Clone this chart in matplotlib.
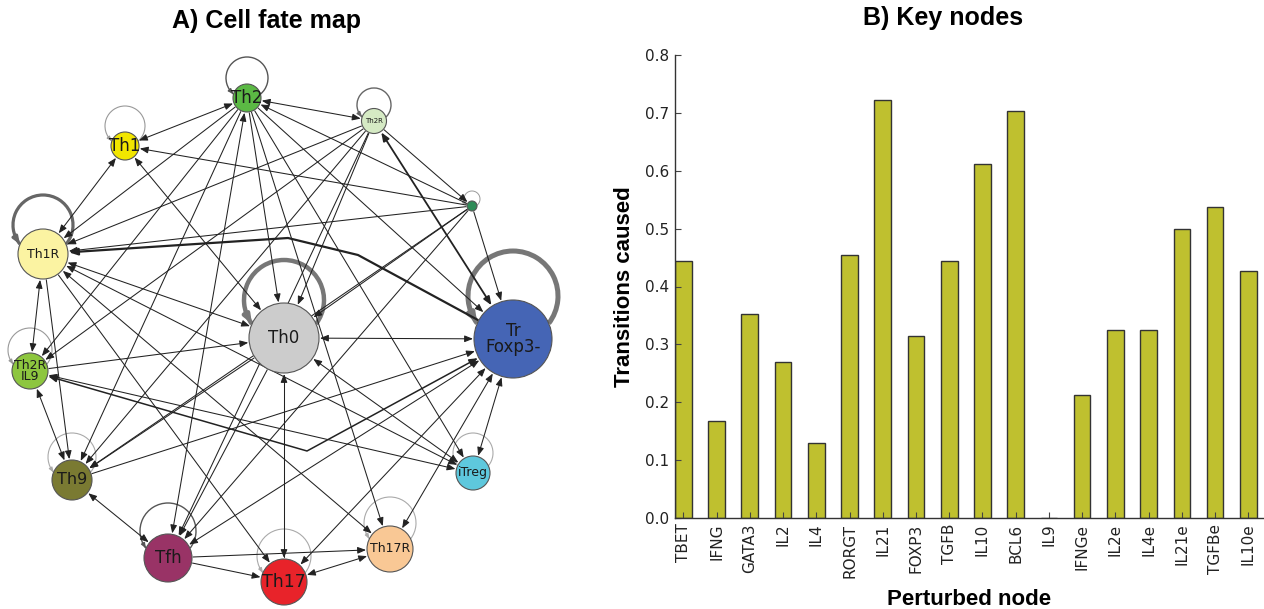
import numpy as np
import matplotlib
matplotlib.use('Agg')
import matplotlib.pyplot as plt
from matplotlib.patches import Circle, Arc, FancyArrowPatch
from matplotlib.path import Path

# fraction of transitions caused by perturbing each node
perturbed = ['TBET', 'IFNG', 'GATA3', 'IL2', 'IL4', 'RORGT', 'IL21', 'FOXP3', 'TGFB',
             'IL10', 'BCL6', 'IL9', 'IFNGe', 'IL2e', 'IL4e', 'IL21e', 'TGFBe', 'IL10e']
transitions = [0.444, 0.167, 0.352, 0.269, 0.130, 0.454, 0.722, 0.315, 0.444,
               0.611, 0.704, 0.0, 0.213, 0.324, 0.324, 0.500, 0.537, 0.426]

# cell fate map: states and observed transitions ('<->' = both directions)
states = ['Th2', 'Th2R', 'Th1', 'X', 'Th1R', 'Th0', 'Tr', 'Th2RIL9',
          'Th9', 'iTreg', 'Tfh', 'Th17', 'Th17R']
state_labels = {'Th2': 'Th2', 'Th2R': 'Th2R', 'Th1': 'Th1', 'X': '', 'Th1R': 'Th1R',
                'Th0': 'Th0', 'Tr': 'Tr\nFoxp3-', 'Th2RIL9': 'Th2R\nIL9', 'Th9': 'Th9',
                'iTreg': 'iTreg', 'Tfh': 'Tfh', 'Th17': 'Th17', 'Th17R': 'Th17R'}
edges = [
    ('Th2', 'Th1', '<->'), ('Th2', 'Th2R', '<->'), ('Th2', 'Th0', '->'),
    ('Th2', 'Th1R', '->'), ('Th2', 'Th2RIL9', '->'), ('Th2', 'Th9', '->'),
    ('Th2', 'Tfh', '<->'), ('Th2', 'iTreg', '->'), ('Th2', 'Tr', '->'),
    ('Th2', 'Th17R', '->'), ('X', 'Th2', '->'),
    ('Th1', 'Th1R', '<->'), ('Th1', 'Th0', '<->'), ('X', 'Th1', '->'),
    ('Th2R', 'Th1R', '->'), ('Th2R', 'Th2RIL9', '->'), ('Th2R', 'Th0', '->'),
    ('Th2R', 'Tfh', '->'), ('Th2R', 'Th9', '->'), ('Th2R', 'Tr', '<->'),
    ('Th2R', 'X', '->'),
    ('X', 'Th1R', '->'), ('X', 'Th0', '->'), ('X', 'Tr', '->'),
    ('X', 'Tfh', '->'), ('X', 'Th9', '->'),
    ('Th1R', 'Th0', '<->'), ('Th1R', 'Th2RIL9', '<->'), ('Th1R', 'Th9', '->'),
    ('Th1R', 'Th17', '->'), ('Th1R', 'iTreg', '<->'), ('Th1R', 'Th17R', '<->'),
    ('Th0', 'Tr', '<->'), ('Th0', 'Th17', '<->'), ('Th0', 'iTreg', '<->'),
    ('Th0', 'Th9', '->'), ('Th0', 'Tfh', '->'),
    ('Th2RIL9', 'Th0', '->'), ('Th2RIL9', 'Th9', '<->'), ('Th2RIL9', 'iTreg', '<->'),
    ('Th9', 'Tfh', '<->'), ('Th9', 'Tr', '->'),
    ('Tr', 'Tfh', '<->'), ('Tr', 'iTreg', '<->'), ('Tr', 'Th17R', '<->'),
    ('Tr', 'Th17', '<->'),
    ('Tfh', 'Th17R', '->'), ('Tfh', 'Th17', '->'), ('Th17', 'Th17R', '<->'),
    ('Th2RIL9', 'Tr', '<->'), ('Tr', 'Th1R', '->'),
]

# drawing layout of the map, in pixels of the left panel
layout = {'Th2': (247, 98, 14), 'Th2R': (374, 121, 12.5), 'Th1': (125, 146, 14),
          'X': (472, 206, 5), 'Th1R': (43, 254, 25), 'Th0': (284, 338, 35),
          'Tr': (513, 339, 39), 'Th2RIL9': (30, 371, 18), 'Th9': (72, 480, 20),
          'iTreg': (473, 473, 17), 'Tfh': (168, 558, 24), 'Th17': (284, 582, 23),
          'Th17R': (390, 549, 23)}
colors = {'Th2': '#5bb944', 'Th2R': '#d5eac4', 'Th1': '#f2e600', 'X': '#2e8b57',
          'Th1R': '#fbf3a2', 'Th0': '#cccccc', 'Tr': '#4565b5', 'Th2RIL9': '#8dc63f',
          'Th9': '#7a7a32', 'iTreg': '#5ec8dd', 'Tfh': '#993366', 'Th17': '#e8232a',
          'Th17R': '#f9c895'}
label_size = {'Th2': 12, 'Th2R': 5, 'Th1': 12, 'X': 5, 'Th1R': 9, 'Th0': 12, 'Tr': 12,
              'Th2RIL9': 9, 'Th9': 11.5, 'iTreg': 9, 'Tfh': 12, 'Th17': 12.5, 'Th17R': 9}
# self loops: radius, offset above node centre, line width, colour
loops = {'Th2': (21, 20, 1.0, '#555555'), 'Th2R': (17, 16, 1.0, '#666666'),
         'Th1': (20, 20, 0.8, '#999999'), 'X': (8, 7, 0.7, '#999999'),
         'Th1R': (30, 29, 2.3, '#666666'), 'Th0': (40, 38, 3.2, '#777777'),
         'Tr': (45, 43, 3.6, '#777777'), 'Th2RIL9': (22, 21, 0.8, '#999999'),
         'Th9': (24, 23, 0.8, '#aaaaaa'), 'iTreg': (20, 20, 0.8, '#aaaaaa'),
         'Tfh': (28, 27, 1.0, '#555555'), 'Th17': (27, 26, 0.8, '#aaaaaa'),
         'Th17R': (26, 26, 0.8, '#aaaaaa')}
bends = {('Th2RIL9', 'Tr'): [(307, 451)], ('Tr', 'Th1R'): [(358, 255), (288, 238)]}
thick = {('Th2R', 'Tr'): 1.3, ('Tr', 'Th1R'): 1.6, ('Th2RIL9', 'Tr'): 1.1}

fig = plt.figure(figsize=(12.64, 6.09), dpi=100)
W, H = 1264, 609

# ---- A) cell fate map ----
ax = fig.add_axes([0, 0, 600 / W, 569 / H])
ax.set_xlim(0, 600)
ax.set_ylim(609, 40)
ax.set_aspect('equal')
ax.axis('off')


def unit(p, q):
    d = np.array(q, float) - np.array(p, float)
    return d / np.hypot(*d)


for a, b, kind in edges:
    xa, ya, ra = layout[a]
    xb, yb, rb = layout[b]
    mids = bends.get((a, b), [])
    pts = [(xa, ya)] + mids + [(xb, yb)]
    u0 = unit(pts[0], pts[1])
    u1 = unit(pts[-2], pts[-1])
    start = np.array(pts[0]) + u0 * (ra + 1)
    end = np.array(pts[-1]) - u1 * (rb + 1)
    verts = [tuple(start)] + mids + [tuple(end)]
    style = '<|-|>' if kind == '<->' else '-|>'
    ax.add_patch(FancyArrowPatch(path=Path(verts),
                                 arrowstyle=style + ',head_length=0.5,head_width=0.2',
                                 mutation_scale=10, lw=thick.get((a, b), 0.75),
                                 color='#222222', zorder=2))

for s in states:
    x, y, r = layout[s]
    R, off, lw, c = loops[s]
    # where the loop meets the node outline
    sin_t = (R ** 2 + off ** 2 - r ** 2) / (2 * R * off)
    t = np.degrees(np.arcsin(np.clip(sin_t, -1, 1)))
    ax.add_patch(Arc((x, y - off), 2 * R, 2 * R, theta1=180 - t, theta2=360 + t,
                     lw=lw, color=c, zorder=1.5))
    t_end = np.radians(180 - t)
    t_beg = t_end + np.radians(14)
    p0 = (x + R * np.cos(t_beg), y - off + R * np.sin(t_beg))
    p1 = (x + R * np.cos(t_end), y - off + R * np.sin(t_end))
    ax.add_patch(FancyArrowPatch(p0, p1, arrowstyle='-|>,head_length=0.45,head_width=0.18',
                                 mutation_scale=5 + 1.5 * lw, lw=lw, color=c,
                                 shrinkA=0, shrinkB=0, zorder=1.6))
    ax.add_patch(Circle((x, y), r, facecolor=colors[s], edgecolor='#555555',
                        lw=0.8, zorder=3))
    if state_labels[s]:
        ax.text(x, y, state_labels[s], ha='center', va='center', fontsize=label_size[s],
                color='#1a1a1a', linespacing=0.85, zorder=4)

fig.text(266 / W, 1 - 21 / H, 'A) Cell fate map', ha='center', va='center',
         fontsize=18, fontweight='bold', family='Liberation Sans')

# ---- B) key nodes ----
bx = fig.add_axes([675 / W, (H - 518) / H, (W - 675) / W, (518 - 55) / H])
pos = np.arange(len(perturbed))
bx.bar(pos, transitions, width=0.5, align='edge', color='#bfc02f',
       edgecolor='#333333', linewidth=1.0)
bx.set_xlim(0, 17.72)
bx.set_ylim(0, 0.8)
bx.set_xticks(pos + 0.25)
bx.set_xticklabels(perturbed, rotation=90, fontsize=11, color='#222222')
bx.set_yticks(np.arange(0, 0.81, 0.1))
bx.set_yticklabels(['%.1f' % v for v in np.arange(0, 0.81, 0.1)], fontsize=11,
                   color='#222222')
bx.tick_params(direction='in', length=4, width=0.8, color='#444444', pad=4)
for side in ['top', 'right']:
    bx.spines[side].set_visible(False)
for side in ['left', 'bottom']:
    bx.spines[side].set_color('#333333')
    bx.spines[side].set_linewidth(1.0)
bx.set_ylabel('Transitions caused', fontsize=16, fontweight='bold',
              family='Liberation Sans', labelpad=7)
bx.set_xlabel('Perturbed node', fontsize=16, fontweight='bold',
              family='Liberation Sans', labelpad=8)

fig.text(943 / W, 1 - 18 / H, 'B) Key nodes', ha='center', va='center',
         fontsize=18, fontweight='bold', family='Liberation Sans')

fig.savefig('out.png', dpi=100)
